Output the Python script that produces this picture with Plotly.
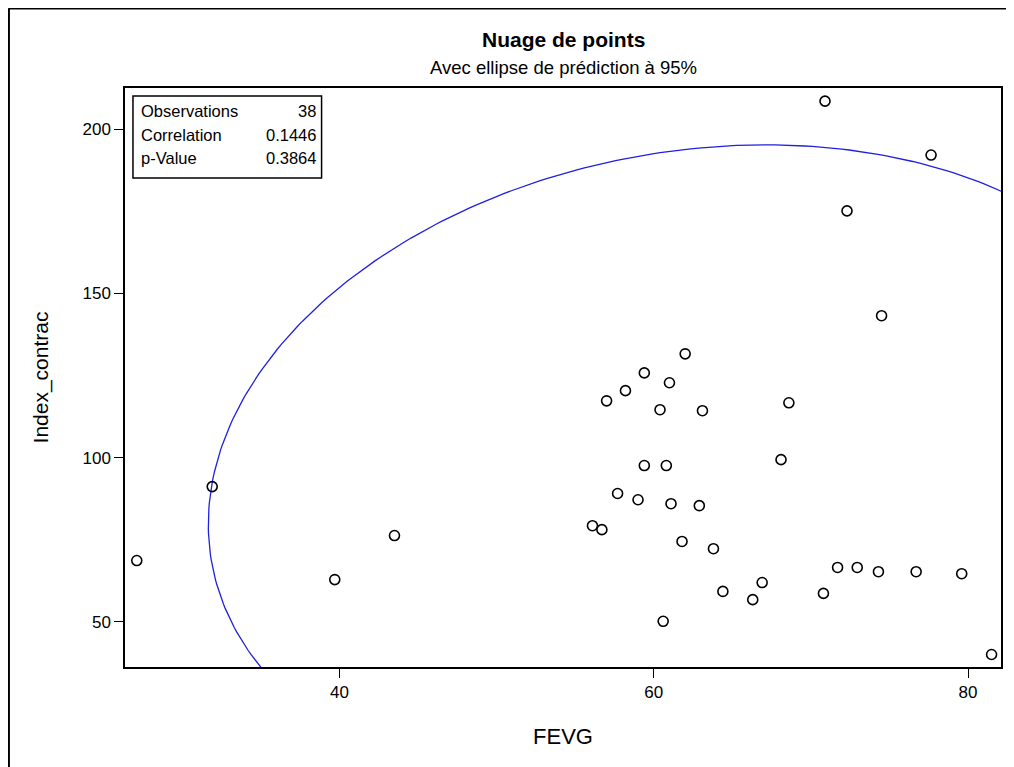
import numpy as np
import plotly.graph_objects as go

fevg = [27.1, 31.9, 39.7, 43.5, 56.1, 56.7, 57.0, 57.7, 58.2, 59.0,
        59.4, 59.4, 60.4, 60.8, 60.6, 61.0, 61.1, 62.0, 61.8, 62.9,
        63.1, 63.8, 64.4, 66.3, 66.9, 68.1, 68.6, 70.9, 70.8, 71.7,
        72.3, 72.95, 74.3, 74.5, 76.7, 77.65, 79.6, 81.5]
index_contrac = [68.7, 91.2, 62.9, 76.3, 79.3, 78.1, 117.3, 89.1, 120.4, 87.2,
                 125.8, 97.6, 114.6, 97.6, 50.2, 122.8, 86.0, 131.6, 74.5, 85.4,
                 114.3, 72.3, 59.3, 56.8, 62.0, 99.4, 116.7, 208.5, 58.7, 66.6,
                 175.1, 66.6, 65.3, 143.2, 65.3, 192.1, 64.7, 40.1]
stats_labels = ["Observations", "Correlation", "p-Value"]
stats_values = ["38", "0.1446", "0.3864"]
x_ticks = [40, 60, 80]
y_ticks = [50, 100, 150, 200]

# 95% prediction ellipse (SAS style)
X = np.array(fevg); Y = np.array(index_contrac)
n = len(X)
mu = np.array([X.mean(), Y.mean()])
S = np.cov(np.vstack([X, Y]))
F95 = 3.259  # F(0.95; 2, n-2) for n=38
c = np.sqrt(2 * (n - 1) * (n + 1) / (n * (n - 2)) * F95)
vals, vecs = np.linalg.eigh(S)
t = np.linspace(0, 2 * np.pi, 400)
circ = np.vstack([np.cos(t), np.sin(t)])
ell = mu[:, None] + c * vecs @ (np.sqrt(vals)[:, None] * circ)

fig = go.Figure()
fig.add_trace(go.Scatter(x=ell[0], y=ell[1], mode="lines",
                         line=dict(color="#2020e0", width=1.3), hoverinfo="skip"))
fig.add_trace(go.Scatter(x=fevg, y=index_contrac, mode="markers",
                         marker=dict(symbol="circle-open", size=10, color="black",
                                     line=dict(width=1.6, color="black"))))

font = "Liberation Sans, Arial, sans-serif"
fig.update_layout(
    width=1006, height=759,
    margin=dict(l=117, r=11, t=80, b=100),
    paper_bgcolor="white", plot_bgcolor="white",
    showlegend=False,
    font=dict(family=font, color="black", size=16),
    xaxis=dict(range=[26.35, 82.1], tickvals=x_ticks, ticks="outside", ticklen=9,
               tickcolor="black", showgrid=False, zeroline=False,
               showline=True, linecolor="black", linewidth=1.5, mirror=True,
               title=dict(text="FEVG", font=dict(size=22), standoff=27),
               tickfont=dict(size=17)),
    yaxis=dict(range=[36.3, 212.5], tickvals=y_ticks, ticks="outside", ticklen=9,
               tickcolor="black", showgrid=False, zeroline=False,
               showline=True, linecolor="black", linewidth=1.5, mirror=True,
               title=dict(text="Index_contrac", font=dict(size=21), standoff=28),
               tickfont=dict(size=17)),
)

shapes = [
    dict(type="rect", xref="paper", yref="paper", x0=0.0091, x1=0.2244, y0=0.8446, y1=0.9862,
         line=dict(color="black", width=1.5)),
    dict(type="line", xref="paper", yref="paper", x0=-0.1325, x1=-0.1325, y0=-0.2, y1=1.1375,
         line=dict(color="black", width=2)),
    dict(type="line", xref="paper", yref="paper", x0=-0.1333, x1=1.1, y0=1.1375, y1=1.1375,
         line=dict(color="black", width=2)),
]
fig.update_layout(shapes=shapes)

rows_y = [0.9603, 0.9188, 0.8791]
for lab, val, yy in zip(stats_labels, stats_values, rows_y):
    fig.add_annotation(xref="paper", yref="paper", x=0.0159, y=yy, text=lab, showarrow=False,
                       xanchor="left", yanchor="middle", font=dict(size=16.5))
    fig.add_annotation(xref="paper", yref="paper", x=0.2198, y=yy, text=val, showarrow=False,
                       xanchor="right", yanchor="middle", font=dict(size=16.5))

fig.add_annotation(xref="paper", yref="paper", x=0.5, y=(667 - 40) / 579, text="<b>Nuage de points</b>",
                   showarrow=False, xanchor="center", yanchor="middle", font=dict(size=21))
fig.add_annotation(xref="paper", yref="paper", x=0.5, y=(667 - 67) / 579,
                   text="Avec ellipse de prédiction à 95%",
                   showarrow=False, xanchor="center", yanchor="middle", font=dict(size=18.5))

fig.write_html("out.html")
